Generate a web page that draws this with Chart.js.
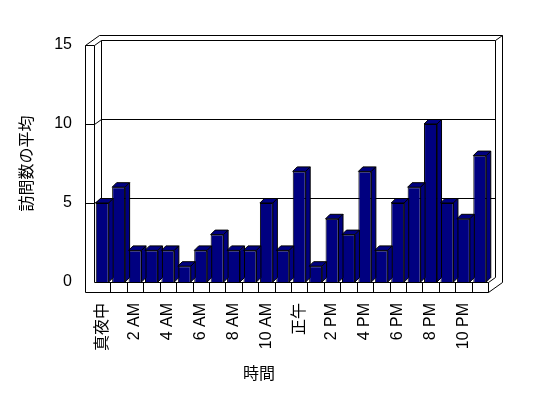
<!DOCTYPE html>
<html>
<head>
<meta charset="utf-8">
<script src="https://cdn.jsdelivr.net/npm/chart.js@4/dist/chart.umd.min.js"></script>
<style>
    html, body { margin: 0; padding: 0; background: #fff; }
    #wrap { width: 548px; height: 398px; }
</style>
</head>
<body>
<div id="wrap"><canvas id="chart"></canvas></div>
<script>
const hours = ['真夜中', '1 AM', '2 AM', '3 AM', '4 AM', '5 AM', '6 AM', '7 AM', '8 AM', '9 AM', '10 AM', '11 AM',
               '正午', '1 PM', '2 PM', '3 PM', '4 PM', '5 PM', '6 PM', '7 PM', '8 PM', '9 PM', '10 PM', '11 PM'];
const visits = [5, 6, 2, 2, 2, 1, 2, 3, 2, 2, 5, 2, 7, 1, 4, 3, 7, 2, 5, 6, 10, 5, 4, 8];
const yTicks = [0, 5, 10, 15];
const xTitle = '時間';
const yTitle = '訪問数の平均';

const FONT = "'Liberation Sans', 'Noto Sans CJK JP', sans-serif";
const NAVY = '#000080';

Chart.defaults.font.family = FONT;
Chart.defaults.font.size = 16;
Chart.defaults.color = '#000';

// draws the excel-ish 3d box: walls, floor, back grid, bar tops/sides
const box3d = {
    id: 'box3d',
    beforeDatasetsDraw(chart) {
        const { ctx, chartArea: a, scales } = chart;
        const L = a.left, R = a.right, T = a.top, B = a.bottom;
        const dx = 7, dy = -5, wall = 9;
        const p = v => Math.round(v) + 0.5;

        ctx.save();
        ctx.strokeStyle = '#000';
        ctx.lineWidth = 1;
        const line = pts => {
            ctx.beginPath();
            pts.forEach(([x, y], i) => i ? ctx.lineTo(p(x), p(y)) : ctx.moveTo(p(x), p(y)));
            ctx.stroke();
        };

        // left wall
        line([[L - wall, T], [L, T]]);
        line([[L - wall, T], [L - wall, B + 10]]);
        line([[L, T], [L, B]]);
        // floor
        line([[L - wall, B + 10], [R, B + 10]]);
        line([[L, B], [R, B]]);
        line([[R, B], [R, B + 10]]);
        for (let i = 1; i < hours.length; i++) {
            const xx = L + (R - L) * i / hours.length;
            line([[xx, B], [xx, B + 10]]);
        }
        // back wall
        line([[L, T], [L + dx, T + dy], [R + dx, T + dy], [R + dx, B + dy]]);
        line([[L + dx, T + dy], [L + dx, B + dy]]);
        line([[R, B], [R + dx, B + dy]]);
        // outer edges
        line([[L - wall, T], [L - wall + 2 * dx, T + 2 * dy], [R + 2 * dx, T + 2 * dy], [R + 2 * dx, B + 10 + 2 * dy], [R, B + 10]]);
        line([[R + dx, T + dy], [R + 2 * dx, T + 2 * dy]]);

        // gridlines on the back wall
        yTicks.forEach(v => {
            if (v === 0 || v === yTicks[yTicks.length - 1]) return;
            const yy = scales.y.getPixelForValue(v);
            line([[L - wall, yy], [L, yy], [L + dx, yy + dy], [R + dx, yy + dy]]);
        });
        ctx.restore();
    },
    afterDatasetsDraw(chart) {
        const { ctx } = chart;
        const bdx = 4.5, bdy = -4.5;
        ctx.save();
        ctx.fillStyle = NAVY;
        ctx.strokeStyle = '#000';
        ctx.lineWidth = 1;
        chart.getDatasetMeta(0).data.forEach(bar => {
            const { x, y, base, width } = bar.getProps(['x', 'y', 'base', 'width'], true);
            const l = x - width / 2, r = x + width / 2;
            [[[l, y], [l + bdx, y + bdy], [r + bdx, y + bdy], [r, y]],
             [[r, y], [r + bdx, y + bdy], [r + bdx, base + bdy], [r, base]]].forEach(face => {
                ctx.beginPath();
                face.forEach(([px, py], i) => i ? ctx.lineTo(px, py) : ctx.moveTo(px, py));
                ctx.closePath();
                ctx.fill();
                ctx.stroke();
            });
        });
        ctx.restore();
    },
    afterDraw(chart) {
        // x title sits left of centre like the original
        const { ctx, chartArea: a } = chart;
        ctx.save();
        ctx.font = '16px ' + FONT;
        ctx.fillStyle = '#000';
        ctx.textAlign = 'center';
        ctx.textBaseline = 'middle';
        ctx.fillText(xTitle, a.left + 165, a.bottom + 93);
        ctx.restore();
    }
};

new Chart(document.getElementById('chart'), {
    type: 'bar',
    data: {
        labels: hours,
        datasets: [{
            data: visits,
            backgroundColor: NAVY,
            borderColor: '#000',
            borderWidth: 1,
            barPercentage: 0.79,
            categoryPercentage: 1
        }]
    },
    options: {
        responsive: true,
        maintainAspectRatio: false,
        animation: false,
        devicePixelRatio: 1,
        layout: { padding: { top: 45, right: 60, left: 0, bottom: 0 } },
        plugins: { legend: { display: false }, tooltip: { enabled: false } },
        scales: {
            x: {
                grid: { display: false, drawTicks: false },
                border: { display: false },
                ticks: {
                    autoSkip: false,
                    minRotation: 90,
                    maxRotation: 90,
                    padding: 21,
                    callback: (v, i) => (i % 2 === 0 ? hours[i] : '')
                },
                afterFit: s => { s.height = 116; }
            },
            y: {
                min: 0,
                max: 15,
                grid: { display: false, drawTicks: false },
                border: { display: false },
                ticks: { stepSize: 5, padding: 22 },
                title: { display: true, text: yTitle, padding: { top: 18, bottom: 0 } },
                afterFit: s => { s.width = 94; }
            }
        }
    },
    plugins: [box3d]
});
</script>
</body>
</html>
